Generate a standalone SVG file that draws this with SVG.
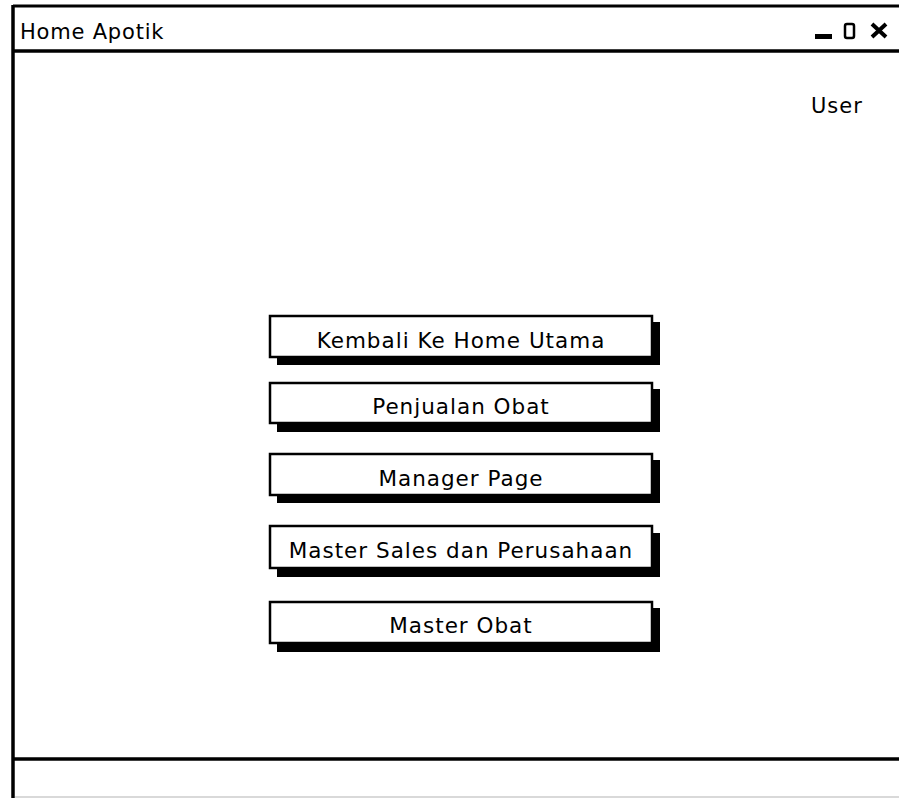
<svg xmlns="http://www.w3.org/2000/svg" width="899" height="798" viewBox="0 0 899 798">
<style>
.btn{fill:#fff;stroke:#000;stroke-width:2.5}
.sh{fill:#000}
.bt{font-family:"DejaVu Sans","Liberation Sans",sans-serif;font-size:21.5px;letter-spacing:1px;fill:#000;text-anchor:middle}
.t{font-family:"DejaVu Sans","Liberation Sans",sans-serif;font-size:21px;fill:#000}
</style>
<rect width="899" height="798" fill="#fff"/>
<g id="window">
<line x1="13" y1="6" x2="899" y2="6" stroke="#000" stroke-width="3"/>
<line x1="13" y1="5" x2="13" y2="798" stroke="#000" stroke-width="3.5"/>
<line x1="13" y1="51" x2="899" y2="51" stroke="#000" stroke-width="3.5"/>
<line x1="13" y1="759" x2="899" y2="759" stroke="#000" stroke-width="3.5"/>
<line x1="15" y1="797" x2="899" y2="797" stroke="#ccc" stroke-width="1.5"/>
<text class="t" x="20" y="39" letter-spacing="0.8">Home Apotik</text>
<rect x="815" y="34" width="17" height="5" fill="#000"/>
<rect x="845" y="24" width="9" height="14" rx="2" fill="none" stroke="#000" stroke-width="2.5"/>
<path d="M872 24 L886 37 M886 24 L872 37" stroke="#000" stroke-width="4"/>
<text class="t" x="811" y="113" letter-spacing="1">User</text>
</g>
<g id="btn1">
<rect class="sh" x="277" y="322" width="383" height="43"/>
<rect class="btn" x="270" y="316" width="382" height="41"/>
<text class="bt" x="461" y="348">Kembali Ke Home Utama</text>
</g>
<g id="btn2">
<rect class="sh" x="277" y="389" width="383" height="43"/>
<rect class="btn" x="270" y="383" width="382" height="40"/>
<text class="bt" x="461" y="414">Penjualan Obat</text>
</g>
<g id="btn3">
<rect class="sh" x="277" y="460" width="383" height="43"/>
<rect class="btn" x="270" y="454" width="382" height="41"/>
<text class="bt" x="461" y="486">Manager Page</text>
</g>
<g id="btn4">
<rect class="sh" x="277" y="533" width="383" height="44"/>
<rect class="btn" x="270" y="526" width="382" height="42"/>
<text class="bt" x="461" y="558">Master Sales dan Perusahaan</text>
</g>
<g id="btn5">
<rect class="sh" x="277" y="608" width="383" height="44"/>
<rect class="btn" x="270" y="602" width="382" height="41"/>
<text class="bt" x="461" y="633">Master Obat</text>
</g>
<g id="connectors"/>
</svg>
